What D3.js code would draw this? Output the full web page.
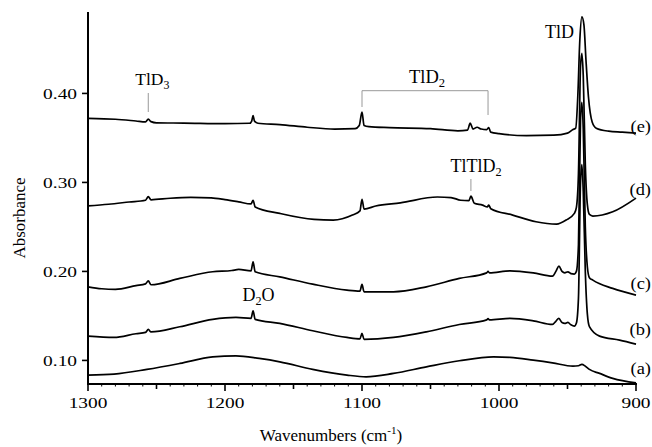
<!DOCTYPE html>
<html>
<head>
<meta charset="utf-8">
<script src="https://cdn.jsdelivr.net/npm/d3@7"></script>
<style>
  body { margin: 0; background: #fff; }
  svg { display: block; }
</style>
</head>
<body>
<svg id="chart" width="652" height="447"></svg>
<script>
// IR spectra of the deposits, [wavenumber (cm-1), absorbance]
const traceA = [
  [1300, .0835], [1281, .0846], [1257, .0899], [1233, .0966], [1209, .1040],
  [1192, .1052], [1175, .1022], [1160, .0984], [1136, .0899], [1111, .0835],
  [1097, .0816], [1077, .0854], [1053, .0928], [1029, .0996], [1004, .1040],
  [992, .1034], [975, .1003], [961, .0973], [946, .0936], [942, .0940],
  [939.5, .0955], [937, .0935], [934, .0899], [926.6, .0854], [917, .0798],
  [900, .0748]
];
const traceB = [
  [1300, .1273], [1281, .1258], [1265, .1300], [1258, .1315], [1256, .1348],
  [1254, .1320], [1233, .1378], [1209, .1461], [1192, .1483], [1181, .1472],
  [1179.5, .1557], [1178, .1461], [1160, .1416], [1136, .1333], [1111, .1258],
  [1101.5, .1243], [1100, .1303], [1098.5, .1236], [1077, .1258], [1053, .1321],
  [1029, .1404], [1009, .1455], [1008, .1470], [1007, .1455], [992, .1472],
  [975, .1445], [961, .1404], [958.5, .1440], [956.3, .1472], [954, .1425],
  [952, .1416], [949.7, .1427], [947.5, .1400], [945, .1385], [943.5, .1420],
  [942, .1700], [940.5, .3000], [939.5, .3200], [938.5, .2900], [937, .2000],
  [935.5, .1520], [934, .1380], [926.6, .1273], [912, .1228], [900, .1183]
];
const traceC = [
  [1300, .1827], [1290, .1805], [1280, .1798], [1265, .1840], [1258, .1860],
  [1256, .1894], [1254, .1850], [1233, .1921], [1209, .1996], [1195, .2010],
  [1190, .2022], [1181, .2007], [1179.5, .2108], [1178, .1996], [1160, .1939],
  [1136, .1857], [1111, .1790], [1101.5, .1779], [1100, .1854], [1098.5, .1771],
  [1077, .1771], [1053, .1827], [1029, .1921], [1009, .1984], [1008, .2000],
  [1007, .1984], [992, .2007], [975, .1984], [961, .1947], [958.5, .2000],
  [956.3, .2060], [954, .2000], [952, .1984], [949.7, .1996], [947.5, .1975],
  [945, .1970], [943.5, .2000], [942, .2300], [940.5, .3700], [939.5, .3900],
  [938.5, .3600], [937, .2500], [935.5, .2050], [934, .1930], [931.5, .1902],
  [917, .1809], [900, .1734]
];
const traceD = [
  [1300, .2737], [1285, .2755], [1270, .2780], [1258, .2800], [1256, .2840],
  [1254, .2805], [1240, .2822], [1225, .2831], [1210, .2826], [1200, .2807],
  [1190, .2782], [1181, .2758], [1179.5, .2800], [1178, .2725], [1160, .2652],
  [1135, .2584], [1121, .2576], [1107, .2633], [1101.5, .2680], [1100, .2810],
  [1098.5, .2700], [1090, .2735], [1072, .2771], [1045, .2836], [1035, .2830],
  [1028, .2800], [1022, .2795], [1020.5, .2845], [1018, .2765], [1012, .2745],
  [1008.5, .2725], [1007.5, .2745], [1006, .2705], [990, .2633], [973, .2558],
  [958, .2532], [951, .2577], [945, .2652], [943.5, .2720], [942, .3100],
  [940.5, .4300], [939.5, .4450], [938.5, .4200], [937, .3200], [935.5, .2750],
  [934, .2640], [931.5, .2622], [917, .2670], [900, .2824]
];
const traceE = [
  [1300, .3720], [1280, .3710], [1265, .3690], [1258, .3680], [1256, .3711],
  [1254, .3683], [1250, .3670], [1230, .3667], [1200, .3660], [1182, .3665],
  [1180.5, .3690], [1179.5, .3750], [1178.5, .3690], [1176, .3665], [1160, .3650],
  [1140, .3620], [1120, .3600], [1105, .3605], [1102, .3640], [1100, .3790],
  [1098.5, .3640], [1095, .3627], [1080, .3616], [1050, .3605], [1030, .3580],
  [1023, .3588], [1021, .3666], [1019, .3600], [1016, .3620], [1013, .3600],
  [1009, .3593], [1007.5, .3616], [1006, .3565], [1000, .3548], [980, .3526],
  [960, .3531], [950, .3554], [946, .3595], [944, .3610], [942.5, .3960],
  [941, .4600], [939.5, .4860], [938, .4770], [936.5, .4370], [934.7, .3960],
  [932, .3680], [929, .3610], [920, .3576], [910, .3565], [900, .3554]
];

const traces = [traceA, traceB, traceC, traceD, traceE];
const traceLabels = ["(a)", "(b)", "(c)", "(d)", "(e)"];
const xTickValues = [1300, 1200, 1100, 1000, 900];
const yTickValues = [0.10, 0.20, 0.30, 0.40];
const yTickLabels = ["0.10", "0.20", "0.30", "0.40"];

const serif = '"Liberation Serif"';
const svg = d3.select("#chart").style("font-family", serif);
const x = d3.scaleLinear().domain([1300, 900]).range([88, 636]);
const y = d3.scaleLinear().domain([0.0735, 0.4915]).range([384, 12]);

// spectra
const line = d3.line().x(d => x(d[0])).y(d => y(d[1])).curve(d3.curveMonotoneX);
svg.append("g").selectAll("path").data(traces).join("path")
  .attr("d", line)
  .attr("fill", "none")
  .attr("stroke", "#000")
  .attr("stroke-width", 1.7)
  .attr("stroke-linejoin", "round");

// axes
const axisG = svg.append("g");
axisG.append("line").attr("x1", 88).attr("x2", 88).attr("y1", 12).attr("y2", 385)
  .attr("stroke", "#000").attr("stroke-width", 2);
axisG.append("line").attr("x1", 87).attr("x2", 637).attr("y1", 384).attr("y2", 384)
  .attr("stroke", "#000").attr("stroke-width", 2);

// x ticks: majors every 100, mid ticks every 50, small every 10
axisG.append("g").selectAll("line").data(d3.range(1300, 899, -10)).join("line")
  .attr("x1", d => x(d)).attr("x2", d => x(d))
  .attr("y1", 384)
  .attr("y2", d => d % 100 === 0 ? 391 : d % 50 === 0 ? 389 : 386.5)
  .attr("stroke", "#000")
  .attr("stroke-width", d => d % 50 === 0 ? 1.6 : 1);

function label(sel) {
  return sel.style("font-family", serif).attr("fill", "#000");
}
// tick numerals are set slightly wide
const wide = 1.25;
label(axisG.append("g").selectAll("text").data(xTickValues).join("text"))
  .attr("transform", d => `translate(${x(d)},408) scale(${wide},1)`)
  .attr("text-anchor", "middle").attr("font-size", 15.5)
  .text(d => d);

// y ticks
axisG.append("g").selectAll("line").data(yTickValues).join("line")
  .attr("x1", 82).attr("x2", 88)
  .attr("y1", d => y(d)).attr("y2", d => y(d))
  .attr("stroke", "#000").attr("stroke-width", 1.6);
label(axisG.append("g").selectAll("text").data(yTickValues).join("text"))
  .attr("transform", d => `translate(77,${y(d) + 5.2}) scale(${wide},1)`)
  .attr("text-anchor", "end").attr("font-size", 15.5)
  .text((d, i) => yTickLabels[i]);

// axis titles
label(svg.append("text"))
  .attr("transform", "translate(25,218) rotate(-90)")
  .attr("text-anchor", "middle").attr("font-size", 17)
  .text("Absorbance");
const xt = label(svg.append("text"))
  .attr("x", 331).attr("y", 441)
  .attr("text-anchor", "middle").attr("font-size", 17);
xt.append("tspan").text("Wavenumbers (cm");
xt.append("tspan").attr("font-size", 11).attr("dy", -7).text("-1");
xt.append("tspan").attr("dy", 7).text(")");

// trace labels at the right edge
const labelY = [374, 335, 289, 195, 132];
label(svg.append("g").selectAll("text").data(traceLabels).join("text"))
  .attr("transform", (d, i) => `translate(651,${labelY[i]}) scale(1.15,1)`)
  .attr("text-anchor", "end").attr("font-size", 16)
  .text(d => d);

// band assignments
const grey = "#999";
function subLabel(px, py, main, sub, tail, size) {
  const t = label(svg.append("text")).attr("x", px).attr("y", py)
    .attr("text-anchor", "middle").attr("font-size", size);
  t.append("tspan").text(main);
  t.append("tspan").attr("font-size", size * 0.68).attr("dy", 4).text(sub);
  if (tail) t.append("tspan").attr("dy", -4).text(tail);
  return t;
}
// TlD3
subLabel(x(1256) + 4, 85, "TlD", "3", null, 17.5);
svg.append("line").attr("x1", x(1256)).attr("x2", x(1256)).attr("y1", 93).attr("y2", 112)
  .attr("stroke", grey).attr("stroke-width", 1);
// TlD2 bracket
subLabel(x(1054) + 2, 83, "TlD", "2", null, 18.5);
svg.append("path")
  .attr("d", `M${x(1100)},107 V90.7 H${x(1008)} V115`)
  .attr("fill", "none").attr("stroke", grey).attr("stroke-width", 1);
// TlTlD2
subLabel(476, 172, "TlTlD", "2", null, 18);
svg.append("line").attr("x1", x(1020.5)).attr("x2", x(1020.5)).attr("y1", 179).attr("y2", 191)
  .attr("stroke", grey).attr("stroke-width", 1);
// D2O
subLabel(258.5, 301, "D", "2", "O", 18);
// TlD
label(svg.append("text")).attr("x", 574).attr("y", 38).attr("text-anchor", "end")
  .attr("font-size", 18).text("TlD");
</script>
</body>
</html>
